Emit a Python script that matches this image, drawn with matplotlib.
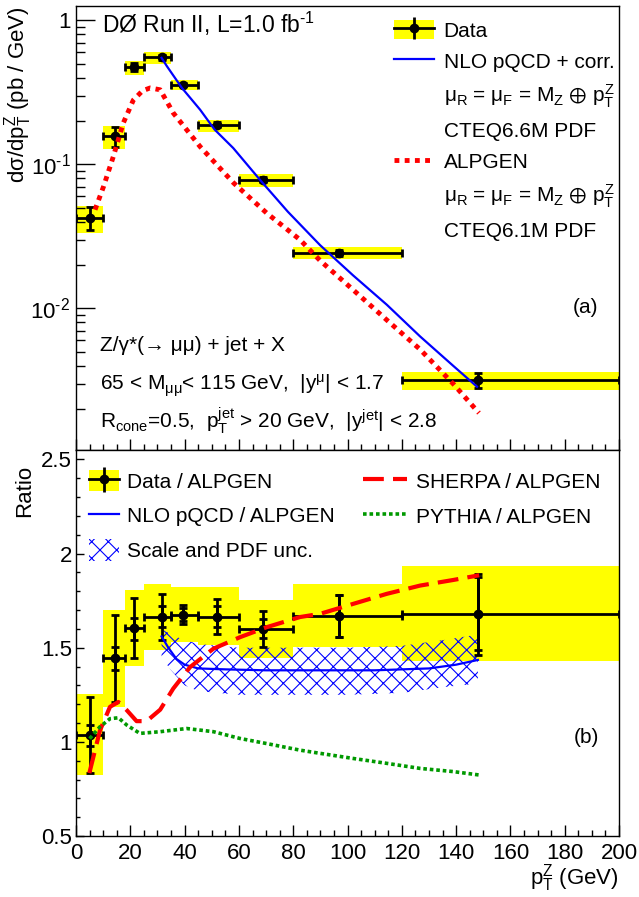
import numpy as np
import matplotlib
matplotlib.use("Agg")
import matplotlib.pyplot as plt
from matplotlib.patches import Patch
from matplotlib.lines import Line2D
from matplotlib.legend_handler import HandlerTuple
from matplotlib.ticker import FixedLocator, FixedFormatter, LogLocator, MultipleLocator, NullFormatter

plt.rcParams["font.family"] = ["Liberation Sans", "DejaVu Sans"]
plt.rcParams["mathtext.fontset"] = "custom"
plt.rcParams["mathtext.rm"] = "Liberation Sans"
plt.rcParams["mathtext.it"] = "Liberation Sans"
plt.rcParams["mathtext.bf"] = "Liberation Sans:bold"
plt.rcParams["mathtext.fallback"] = "stixsans"
plt.rcParams["hatch.linewidth"] = 0.8

# --- binning (GeV) ---
bin_lo = [0, 10, 18, 25, 35, 45, 60, 80, 120]
bin_hi = [10, 18, 25, 35, 45, 60, 80, 120, 200]
pt_center = [5, 14.5, 21.5, 31.5, 39.5, 52, 69, 97, 148]

# --- panel (a): cross section (pb/GeV) ---
xsec = [0.0427, 0.158, 0.472, 0.554, 0.358, 0.189, 0.0783, 0.0243, 0.0032]
xsec_err_lo = [0.035, 0.133, 0.443, 0.535, 0.348, 0.182, 0.0753, 0.0233, 0.0028]
xsec_err_hi = [0.051, 0.183, 0.506, 0.575, 0.368, 0.196, 0.0813, 0.0253, 0.00356]
xsec_sys_lo = [0.0336, 0.129, 0.420, 0.500, 0.327, 0.168, 0.0703, 0.0220, 0.00272]
xsec_sys_hi = [0.0517, 0.184, 0.525, 0.604, 0.388, 0.204, 0.0862, 0.0267, 0.00365]

nlo_pt = [31.5, 33.5, 39, 45.7, 51, 57.9, 67.8, 78, 89.9, 102, 114.5, 126.7, 138.9, 147.7]
nlo_xsec = [0.55, 0.48, 0.34, 0.24, 0.175, 0.130, 0.078, 0.047, 0.0275, 0.0170, 0.0106,
            0.0064, 0.0040, 0.00286]

alp_pt = [7, 10.1, 13.7, 17.4, 21.1, 24.5, 27.3, 31, 35.8, 45.7, 58, 70.2, 82.5,
          89.9, 102, 114.5, 126.7, 138.9, 148.4]
alp_xsec = [0.0485, 0.070, 0.113, 0.194, 0.28, 0.325, 0.340, 0.33, 0.228, 0.133,
            0.0745, 0.046, 0.030, 0.0215, 0.0135, 0.0083, 0.0052, 0.0030, 0.00188]

# --- panel (b): ratios to ALPGEN ---
ratio = [1.036, 1.443, 1.605, 1.663, 1.672, 1.663, 1.601, 1.667, 1.681]
ratio_stat_lo = [0.98, 1.381, 1.54, 1.61, 1.64, 1.61, 1.55, 1.557, 1.487]
ratio_stat_hi = [1.09, 1.504, 1.66, 1.72, 1.71, 1.72, 1.65, 1.778, 1.875]
ratio_tot_lo = [0.834, 1.212, 1.448, 1.542, 1.625, 1.572, 1.504, 1.557, 1.46]
ratio_tot_hi = [1.237, 1.672, 1.766, 1.784, 1.725, 1.76, 1.695, 1.778, 1.893]
ratio_sys_lo = [0.824, 1.186, 1.402, 1.487, 1.53, 1.513, 1.443, 1.502, 1.429]
ratio_sys_hi = [1.253, 1.699, 1.808, 1.84, 1.822, 1.822, 1.755, 1.84, 1.932]

nlo_r_pt = [31.5, 34, 37, 40, 45, 55, 70, 90, 110, 130, 140, 148]
nlo_r = [1.56, 1.50, 1.44, 1.41, 1.39, 1.385, 1.38, 1.38, 1.38, 1.39, 1.41, 1.435]
unc_pt = [31.5, 35, 40, 45, 60, 80, 100, 120, 135, 148]
unc_hi = [1.60, 1.57, 1.54, 1.52, 1.50, 1.50, 1.50, 1.51, 1.54, 1.57]
unc_lo = [1.45, 1.38, 1.30, 1.27, 1.25, 1.25, 1.25, 1.26, 1.29, 1.31]

sherpa_pt = [4.9, 8.8, 12.5, 15.6, 18.7, 22.3, 26, 31, 35.8, 42, 50.6, 60.4, 70.2,
             82.5, 89.9, 102.1, 114.4, 126.7, 139, 148.5]
sherpa_r = [0.834, 1.06, 1.186, 1.212, 1.168, 1.11, 1.11, 1.171, 1.283, 1.397, 1.495,
            1.556, 1.609, 1.663, 1.68, 1.733, 1.786, 1.83, 1.86, 1.885]

pythia_pt = [5, 8.8, 12.5, 15.6, 18.7, 23.5, 31, 40.7, 50.6, 60.4, 70.2, 82.5, 89.9,
             102, 114.4, 126.7, 139, 148.5]
pythia_r = [1.017, 1.08, 1.123, 1.128, 1.089, 1.045, 1.054, 1.071, 1.054, 1.018, 0.991,
            0.956, 0.939, 0.912, 0.886, 0.859, 0.842, 0.824]

YELLOW = "#ffff00"
BLUE = "#0000ff"
RED = "#ff0000"
GREEN = "#009900"

lo = np.array(bin_lo, dtype=float)
hi = np.array(bin_hi, dtype=float)
pc = np.array(pt_center, dtype=float)
xerr = [pc - lo, hi - pc]

fig = plt.figure(figsize=(6.39, 8.97), dpi=100)
ax1 = fig.add_axes([0.119, 0.4983, 0.8498, 0.4950])
ax2 = fig.add_axes([0.119, 0.0680, 0.8498, 0.4303])

# ---------------- panel (a) ----------------
ax1.set_yscale("log")
sys_lo = np.array(xsec_sys_lo)
sys_hi = np.array(xsec_sys_hi)
ax1.bar(lo, sys_hi - sys_lo, bottom=sys_lo, width=hi - lo, align="edge",
        color=YELLOW, lw=0, zorder=1)
y = np.array(xsec)
ax1.errorbar(pc, y, xerr=xerr,
             yerr=[y - np.array(xsec_err_lo), np.array(xsec_err_hi) - y],
             fmt="o", color="k", ms=6, lw=2, capsize=3, capthick=2, zorder=3)
l_nlo, = ax1.plot(nlo_pt, nlo_xsec, color=BLUE, lw=1.6, zorder=4)
l_alp, = ax1.plot(alp_pt, alp_xsec, color=RED, lw=3.5, dashes=(1, 1.1), zorder=4)

ax1.set_xlim(0, 200)
ax1.set_ylim(0.00104, 1.26)
ax1.yaxis.set_major_locator(FixedLocator([0.01, 0.1, 1]))
ax1.yaxis.set_major_formatter(FixedFormatter(["$10^{\\text{-}2}$", "$10^{\\text{-}1}$", "1"]))
ax1.yaxis.set_minor_locator(LogLocator(base=10, subs=np.arange(2, 10)))
ax1.yaxis.set_minor_formatter(NullFormatter())
ax1.xaxis.set_major_locator(MultipleLocator(20))
ax1.xaxis.set_minor_locator(MultipleLocator(5))
ax1.tick_params(axis="x", which="both", direction="in", labelbottom=False, top=False)
ax1.tick_params(axis="x", which="major", length=8, width=1)
ax1.tick_params(axis="x", which="minor", length=4, width=1)
ax1.tick_params(axis="y", which="both", direction="in", right=False, labelsize=16, pad=4)
ax1.tick_params(axis="y", which="major", length=13.5, width=1)
ax1.tick_params(axis="y", which="minor", length=6.5, width=1)
ax1.set_ylabel("dσ/dp$_{T}^{Z}$ (pb / GeV)", fontsize=16, loc="top")
ax1.yaxis.set_label_coords(-0.077, 1.0)

ax1.text(0.048, 0.939, "DØ Run II, L=1.0 fb$^{\\text{-}1}$", transform=ax1.transAxes,
         fontsize=16.5, va="baseline")
ax1.text(0.044, 0.222, "Z/γ*(→ μμ) + jet + X", transform=ax1.transAxes,
         fontsize=15, va="baseline")
ax1.text(0.044, 0.134, "65 < M$_{μμ}$< 115 GeV,  |y$^{μ}$| < 1.7", transform=ax1.transAxes,
         fontsize=15, va="baseline")
ax1.text(0.044, 0.049, "R$_{cone}$=0.5,  p$_{T}^{jet}$ > 20 GeV,  |y$^{jet}$| < 2.8",
         transform=ax1.transAxes, fontsize=15, va="baseline")
ax1.text(0.939, 0.322, "(a)", transform=ax1.transAxes, fontsize=15,
         ha="center", va="center")

data_handle = (Patch(facecolor=YELLOW, lw=0),
               Line2D([], [], color="k", lw=2, marker="o", ms=6),
               Line2D([], [], color="k", ls="none", marker="|", ms=16, mew=2))
blank = Line2D([], [], color="none")
ax1.legend(
    [data_handle, l_nlo, blank, blank, l_alp, blank, blank],
    ["Data", "NLO pQCD + corr.",
     "$μ_{R}$ = $μ_{F}$ = $M_{Z}$ $\\oplus$ $p_{T}^{Z}$", "CTEQ6.6M PDF",
     "ALPGEN",
     "$μ_{R}$ = $μ_{F}$ = $M_{Z}$ $\\oplus$ $p_{T}^{Z}$", "CTEQ6.1M PDF"],
    handler_map={tuple: HandlerTuple(ndivide=1)},
    loc="upper left", bbox_to_anchor=(0.585, 0.969), frameon=False,
    fontsize=15, handlelength=1.95, handleheight=1.05, handletextpad=0.45,
    labelspacing=0.5, borderpad=0, borderaxespad=0, numpoints=1)

# ---------------- panel (b) ----------------
rs_lo = np.array(ratio_sys_lo)
rs_hi = np.array(ratio_sys_hi)
ax2.bar(lo, rs_hi - rs_lo, bottom=rs_lo, width=hi - lo, align="edge",
        color=YELLOW, lw=0, zorder=1)
ax2.fill_between(unc_pt, unc_lo, unc_hi, facecolor="none", edgecolor=BLUE,
                 hatch="xx", lw=0, zorder=2)
r = np.array(ratio)
ax2.errorbar(pc, r, xerr=xerr,
             yerr=[r - np.array(ratio_tot_lo), np.array(ratio_tot_hi) - r],
             fmt="o", color="k", ms=6, lw=2, capsize=3, capthick=2, zorder=3)
ax2.errorbar(pc, r, yerr=[r - np.array(ratio_stat_lo), np.array(ratio_stat_hi) - r],
             fmt="none", ecolor="k", lw=2, capsize=3, capthick=2, zorder=3)
l_nlo_r, = ax2.plot(nlo_r_pt, nlo_r, color=BLUE, lw=1.6, zorder=4)
l_sherpa, = ax2.plot(sherpa_pt, sherpa_r, color=RED, lw=3, dashes=(5, 2.2), zorder=5)
l_pythia, = ax2.plot(pythia_pt, pythia_r, color=GREEN, lw=2.6, dashes=(1, 0.8), zorder=5)

ax2.set_xlim(0, 200)
ax2.set_ylim(0.5, 2.55)
ax2.xaxis.set_major_locator(MultipleLocator(20))
ax2.xaxis.set_minor_locator(MultipleLocator(5))
ax2.yaxis.set_major_locator(FixedLocator([0.5, 1, 1.5, 2, 2.5]))
ax2.yaxis.set_major_formatter(FixedFormatter(["0.5", "1", "1.5", "2", "2.5"]))
ax2.yaxis.set_minor_locator(MultipleLocator(0.1))
ax2.tick_params(axis="both", which="both", direction="in", top=False, right=False,
                labelsize=16)
ax2.tick_params(axis="x", which="major", length=8, width=1, pad=5)
ax2.tick_params(axis="x", which="minor", length=4, width=1)
ax2.tick_params(axis="y", which="major", length=5.5, width=1, pad=3)
ax2.tick_params(axis="y", which="minor", length=3, width=1)
ax2.set_ylabel("Ratio", fontsize=16, loc="top")
ax2.yaxis.set_label_coords(-0.0755, 0.961)
ax2.set_xlabel("p$_{T}^{Z}$ (GeV)", fontsize=16, loc="right", labelpad=-1)
ax2.text(0.939, 0.254, "(b)", transform=ax2.transAxes, fontsize=15,
         ha="center", va="center")

ratio_handle = (Patch(facecolor=YELLOW, lw=0),
                Line2D([], [], color="k", lw=2, marker="o", ms=6),
                Line2D([], [], color="k", ls="none", marker="|", ms=18, mew=2))
unc_handle = Patch(facecolor="none", edgecolor=BLUE, hatch="xx", lw=0)
leg2 = ax2.legend([ratio_handle, l_nlo_r, unc_handle],
                  ["Data / ALPGEN", "NLO pQCD / ALPGEN", "Scale and PDF unc."],
                  handler_map={tuple: HandlerTuple(ndivide=1)},
                  loc="upper left", bbox_to_anchor=(0.024, 0.948), frameon=False,
                  fontsize=15, handlelength=1.45, handleheight=1.2, handletextpad=0.35,
                  labelspacing=0.62, borderpad=0, borderaxespad=0, numpoints=1)
ax2.add_artist(leg2)
ax2.legend([l_sherpa, l_pythia], ["SHERPA / ALPGEN", "PYTHIA / ALPGEN"],
           loc="upper left", bbox_to_anchor=(0.528, 0.948), frameon=False,
           fontsize=15, handlelength=2.1, handleheight=1.2, handletextpad=0.45,
           labelspacing=0.64, borderpad=0, borderaxespad=0)

for ax in (ax1, ax2):
    for s in ax.spines.values():
        s.set_linewidth(1.0)

fig.savefig("out.png", dpi=100)
